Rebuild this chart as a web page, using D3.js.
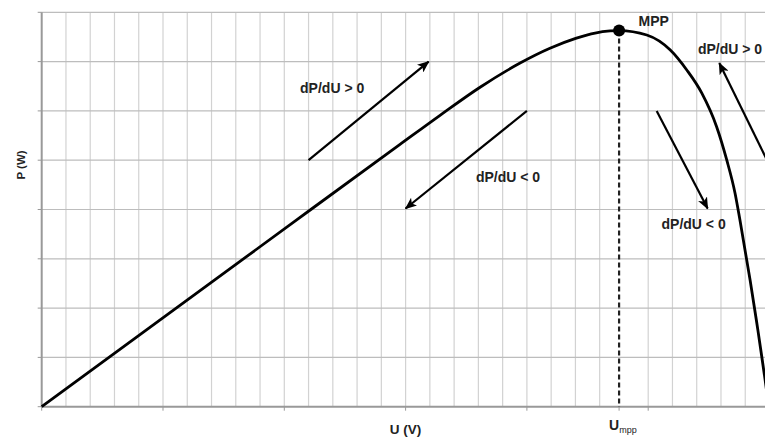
<!DOCTYPE html>
<html><head><meta charset="utf-8">
<script src="https://cdn.jsdelivr.net/npm/d3@7"></script>
<style>
html,body{margin:0;padding:0;background:#fff;}
svg{display:block;font-family:"Liberation Sans",Arial,sans-serif;}
</style></head>
<body>
<svg id="chart" width="765" height="439"></svg>
<script>
// ---- data (grid units) ----
const uValues = [0, 10.51, 14.77, 16.42, 18.07, 19.72, 20.95, 22.01, 22.81, 23.43, 23.8, 24.94, 25.9, 26.59, 27.21, 27.82, 28.24, 28.58, 28.78, 29.2, 29.82, 29.97];
const pValues = [0, 3.79, 5.32, 5.91, 6.48, 6.97, 7.27, 7.47, 7.58, 7.622, 7.63, 7.54, 7.24, 6.83, 6.36, 5.68, 5.0, 4.33, 3.79, 2.57, 0.54, 0];
const mppU = 23.8, mppP = 7.63;
const majorXTicks = [0, 5, 10, 15, 20, 25, 30];
const gridU = d3.range(0, 31, 1);
const gridP = d3.range(0, 9, 1);
const arrowFrom = [[11.0, 5.0], [20.0, 6.0], [25.35, 6.0], [29.9, 5.0]];
const arrowTo   = [[15.95, 7.0], [15.0, 4.02], [27.45, 4.02], [27.93, 6.97]];
const labelTexts = ["dP/dU > 0", "dP/dU < 0", "dP/dU < 0", "dP/dU > 0", "MPP"];
const labelU = [10.65, 17.9, 25.55, 27.05, 24.6];
const labelP = [6.36, 4.56, 3.61, 7.16, 7.73];
const xTitle = "U (V)", yTitle = "P (W)";

// ---- layout ----
const svg = d3.select("#chart");
const x = d3.scaleLinear().domain([0, 30]).range([41.7, 41.7 + 30 * 24.26]);
const y = d3.scaleLinear().domain([0, 8]).range([406.7, 12.3]);

// vertical grid
svg.append("g").selectAll("line").data(gridU.filter(u => u > 0 && Math.abs(u - mppU) > 0.5)).join("line")
  .attr("x1", d => x(d)).attr("x2", d => x(d))
  .attr("y1", y(0)).attr("y2", y(8))
  .attr("stroke", "#d2d2d2").attr("stroke-width", 1.2);
// horizontal grid
svg.append("g").selectAll("line").data(gridP.filter(p => p > 0)).join("line")
  .attr("x1", x(0)).attr("x2", 765)
  .attr("y1", d => y(d)).attr("y2", d => y(d))
  .attr("stroke", "#bdbdbd").attr("stroke-width", 1.2);

// y ticks
svg.append("g").selectAll("line").data(gridP).join("line")
  .attr("x1", x(0) - 4).attr("x2", x(0))
  .attr("y1", d => y(d)).attr("y2", d => y(d))
  .attr("stroke", "#999").attr("stroke-width", 1);
// x ticks
svg.append("g").selectAll("line").data(majorXTicks.concat([mppU])).join("line")
  .attr("x1", d => x(d)).attr("x2", d => x(d))
  .attr("y1", y(0)).attr("y2", y(0) + 4)
  .attr("stroke", "#999").attr("stroke-width", 1);

// axes
svg.append("line").attr("x1", x(0)).attr("x2", x(0)).attr("y1", y(0)).attr("y2", y(8))
  .attr("stroke", "#999").attr("stroke-width", 2);
svg.append("line").attr("x1", x(0)).attr("x2", 765).attr("y1", y(0)).attr("y2", y(0))
  .attr("stroke", "#999").attr("stroke-width", 2);

// dashed MPP line
svg.append("line").attr("x1", x(mppU)).attr("x2", x(mppU)).attr("y1", y(mppP)).attr("y2", y(0))
  .attr("stroke", "#222").attr("stroke-width", 2.2).attr("stroke-dasharray", "5,3");

// curve
const line = d3.line().x((d, i) => x(uValues[i])).y((d, i) => y(pValues[i])).curve(d3.curveMonotoneX);
svg.append("path").datum(uValues).attr("d", line)
  .attr("fill", "none").attr("stroke", "#000").attr("stroke-width", 2.8);

// MPP dot
svg.append("circle").attr("cx", x(mppU)).attr("cy", y(mppP)).attr("r", 6).attr("fill", "#000");

// arrows
svg.append("defs").append("marker").attr("id", "ah")
  .attr("viewBox", "0 0 12 10").attr("refX", 11).attr("refY", 5)
  .attr("markerWidth", 12).attr("markerHeight", 10).attr("markerUnits", "userSpaceOnUse")
  .attr("orient", "auto")
  .append("path").attr("d", "M0,0 L12,5 L0,10 L3,5 Z").attr("fill", "#000");
svg.append("g").selectAll("line").data(arrowFrom).join("line")
  .attr("x1", d => x(d[0])).attr("y1", d => y(d[1]))
  .attr("x2", (d, i) => x(arrowTo[i][0])).attr("y2", (d, i) => y(arrowTo[i][1]))
  .attr("stroke", "#000").attr("stroke-width", 2.2).attr("marker-end", "url(#ah)");

// labels
svg.append("g").selectAll("text").data(labelTexts).join("text")
  .attr("x", (d, i) => x(labelU[i])).attr("y", (d, i) => y(labelP[i]))
  .attr("font-size", 14).attr("font-weight", "bold").attr("fill", "#222")
  .text(d => d);

// axis titles
svg.append("text").attr("x", x(15)).attr("y", 434).attr("text-anchor", "middle")
  .attr("font-size", 13.5).attr("font-weight", "bold").attr("fill", "#222").text(xTitle);
svg.append("text").attr("transform", "translate(25,165) rotate(-90)").attr("text-anchor", "middle")
  .attr("font-size", 11.5).attr("font-weight", "bold").attr("fill", "#222").text(yTitle);
const um = svg.append("text").attr("x", x(mppU) - 10).attr("y", 430).attr("fill", "#222");
um.append("tspan").attr("font-size", 14).attr("font-weight", "bold").text("U");
um.append("tspan").attr("font-size", 9).attr("dy", 3).text("mpp");
</script>
</body></html>
